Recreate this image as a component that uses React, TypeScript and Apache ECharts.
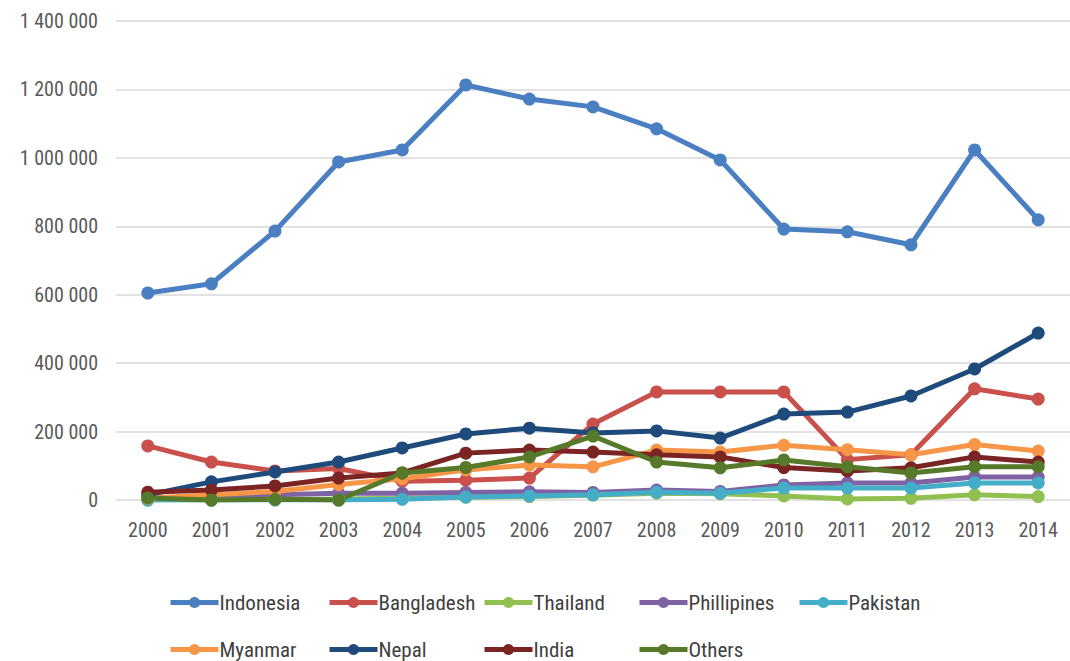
import React, { useEffect, useRef } from "react";
import * as echarts from "echarts";

const years = ["2000","2001","2002","2003","2004","2005","2006","2007","2008","2009","2010","2011","2012","2013","2014"];
const indonesia = [605000, 632000, 786000, 988000, 1023000, 1213000, 1172000, 1149000, 1085000, 994000, 792000, 784000, 746000, 1023000, 819000];
const bangladesh = [158000, 111000, 85000, 92000, 55000, 58000, 64000, 222000, 316000, 316000, 316000, 118000, 132000, 325000, 295000];
const thailand = [0, 0, 2000, 3000, 5000, 8000, 10000, 14000, 20000, 18000, 12000, 3000, 5000, 15000, 10000];
const phillipines = [5000, 10000, 15000, 20000, 20000, 22000, 24000, 22000, 29000, 25000, 44000, 50000, 50000, 67000, 67000];
const pakistan = [0, 0, 0, 0, 2000, 9000, 12000, 15000, 23000, 20000, 35000, 35000, 35000, 50000, 50000];
const myanmar = [5000, 15000, 25000, 45000, 62000, 88000, 102000, 97000, 146000, 140000, 160000, 147000, 132000, 162000, 143000];
const nepal = [15000, 53000, 82000, 111000, 152000, 193000, 210000, 196000, 202000, 181000, 251000, 257000, 304000, 383000, 488000];
const india = [23000, 29000, 41000, 64000, 79000, 137000, 146000, 140000, 132000, 126000, 95000, 85000, 94000, 126000, 111000];
const others = [6000, 0, 2000, 0, 79000, 95000, 126000, 187000, 111000, 94000, 117000, 97000, 79000, 97000, 97000];
const yTicks = [0, 200000, 400000, 600000, 800000, 1000000, 1200000, 1400000];

const seriesDefs = [
  { name: "Indonesia", data: indonesia, color: "#4a7fc1" },
  { name: "Bangladesh", data: bangladesh, color: "#c9504b" },
  { name: "Thailand", data: thailand, color: "#92c050" },
  { name: "Phillipines", data: phillipines, color: "#7f62a4" },
  { name: "Pakistan", data: pakistan, color: "#44aec8" },
  { name: "Myanmar", data: myanmar, color: "#f79646" },
  { name: "Nepal", data: nepal, color: "#1f4a7c" },
  { name: "India", data: india, color: "#7a2424" },
  { name: "Others", data: others, color: "#567a2a" },
];

const legendPos = [
  { left: 163, top: 587 },
  { left: 322, top: 587 },
  { left: 477, top: 587 },
  { left: 632, top: 587 },
  { left: 792, top: 587 },
  { left: 163, top: 634 },
  { left: 322, top: 634 },
  { left: 477, top: 634 },
  { left: 632, top: 634 },
];

const FONT = "'Liberation Sans Narrow', 'Roboto Condensed', 'DejaVu Sans Condensed', 'Liberation Sans', sans-serif";

export default function App() {
  const ref = useRef<HTMLDivElement>(null);
  useEffect(() => {
    if (!ref.current) return;
    const chart = echarts.init(ref.current, null, { renderer: "svg" });
    chart.setOption({
      animation: false,
      backgroundColor: "#ffffff",
      textStyle: { fontFamily: FONT },
      grid: { left: 116, right: -3, top: 21, bottom: 161 },
      legend: seriesDefs.map((s, i) => ({
        data: [s.name],
        left: legendPos[i].left,
        top: legendPos[i].top,
        itemWidth: 48,
        itemHeight: 14,
        itemGap: 2,
        lineStyle: { width: 5 },
        textStyle: { fontSize: 21, color: "#404040", fontFamily: FONT, padding: [0, 0, 0, -4] },
      })),
      xAxis: {
        type: "category",
        data: years,
        boundaryGap: true,
        axisLine: { show: false },
        axisTick: { show: false },
        axisLabel: { color: "#595959", fontSize: 20, margin: 20, fontFamily: FONT },
      },
      yAxis: {
        type: "value",
        min: 0,
        max: 1400000,
        interval: 200000,
        axisLine: { show: false },
        axisTick: { show: false },
        splitLine: { lineStyle: { color: "#d9d9d9", width: 1.5 } },
        axisLabel: {
          color: "#595959",
          fontSize: 20,
          margin: 18,
          fontFamily: FONT,
          formatter: (v: number) => (yTicks.includes(v) ? String(v).replace(/\B(?=(\d{3})+(?!\d))/g, " ") : ""),
        },
      },
      series: seriesDefs.map((s) => ({
        name: s.name,
        type: "line",
        data: s.data,
        color: s.color,
        symbol: "circle",
        symbolSize: 13,
        lineStyle: { width: 5, color: s.color },
        itemStyle: { color: s.color },
      })),
    });
    return () => chart.dispose();
  }, []);
  return (
    <div
      ref={ref}
      style={{ position: "fixed", left: 0, top: 0, width: 1070, height: 661 }}
    />
  );
}
